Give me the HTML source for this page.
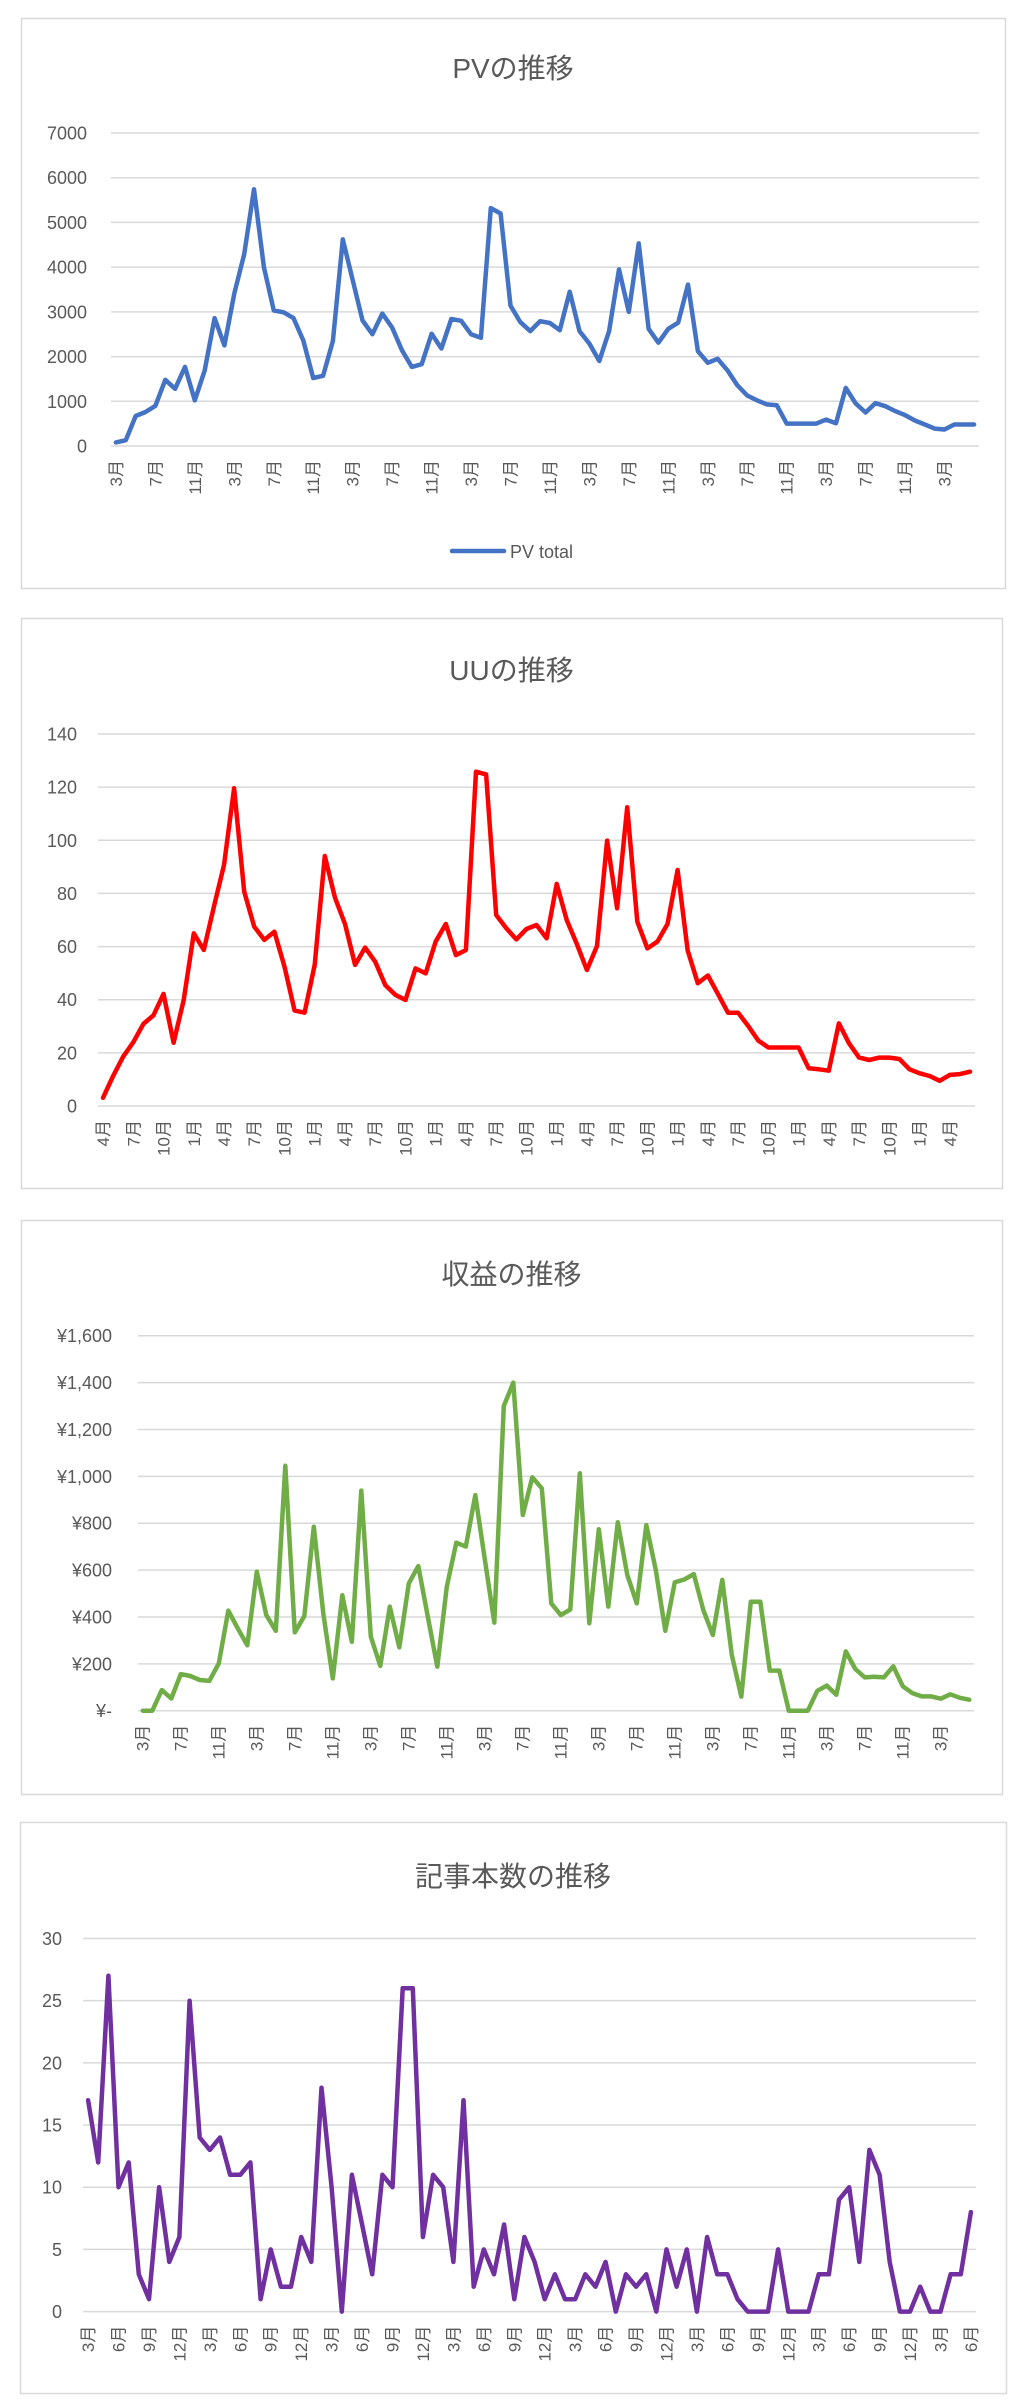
<!DOCTYPE html>
<html><head><meta charset="utf-8">
<style>
html,body{margin:0;padding:0;background:#fff;}
svg{display:block;font-family:"Liberation Sans","Noto Sans CJK JP",sans-serif;}
</style></head>
<body>
<svg id="root" width="1022" height="2403" viewBox="0 0 1022 2403" xmlns="http://www.w3.org/2000/svg"></svg>
<script>
// ---- data ----
const pvTicks = [0,1000,2000,3000,4000,5000,6000,7000];
const pvTickLabels = ["0","1000","2000","3000","4000","5000","6000","7000"];
const pvValues = [80,130,670,760,900,1480,1280,1770,1020,1690,2860,2250,3410,4290,5740,4000,3030,2990,2860,2360,1520,1570,2350,4620,3710,2810,2500,2960,2650,2140,1770,1830,2510,2180,2840,2800,2500,2420,5320,5200,3140,2770,2570,2790,2750,2590,3450,2570,2290,1900,2570,3950,3000,4530,2620,2310,2620,2760,3610,2120,1860,1950,1690,1360,1130,1020,930,910,500,500,500,500,590,510,1300,950,750,960,890,780,690,570,480,390,370,480,480,480];
const uuTicks = [0,20,40,60,80,100,120,140];
const uuTickLabels = ["0","20","40","60","80","100","120","140"];
const uuValues = [3.1,11.3,18.6,24,30.9,34.1,42.2,23.8,39.9,65,58.7,75,90.7,119.6,80.7,67.5,62.5,65.6,52.4,35.9,35.1,53.1,94.1,78.5,68.5,53.1,59.6,54.3,45.5,41.8,39.9,51.8,49.9,61.9,68.5,56.8,58.7,125.8,124.8,71.9,66.9,62.7,66.6,68.1,63.1,83.6,70,61,51.2,60.2,99.9,74.4,112.4,69.4,59.3,61.9,68.5,88.8,58.5,46.2,49.1,42.2,35.1,35.1,30.1,24.6,22,22,22,22,14.2,13.8,13.3,31.1,23.6,18.2,17.3,18.2,18.2,17.7,13.8,12.3,11.3,9.5,11.7,12,12.9];
const revTicks = [0,200,400,600,800,1000,1200,1400,1600];
const revTickLabels = ["¥-","¥200","¥400","¥600","¥800","¥1,000","¥1,200","¥1,400","¥1,600"];
const revValues = [0,0,88,52,156,148,131,127,202,427,351,279,593,408,341,1045,334,403,785,415,138,493,294,939,316,191,444,270,543,617,401,188,529,717,700,920,646,376,1300,1400,835,996,949,458,408,432,1013,373,774,444,804,579,458,792,600,341,548,560,583,430,323,558,238,60,465,465,171,171,0,0,0,85,107,68,253,178,142,145,142,189,104,75,61,61,51,70,55,47];
const artTicks = [0,5,10,15,20,25,30];
const artTickLabels = ["0","5","10","15","20","25","30"];
const artValues = [17,12,27,10,12,3,1,10,4,6,25,14,13,14,11,11,12,1,5,2,2,6,4,18,10,0,11,7,3,11,10,26,26,6,11,10,4,17,2,5,3,7,1,6,4,1,3,1,1,3,2,4,0,3,2,3,0,5,2,5,0,6,3,3,1,0,0,0,5,0,0,0,3,3,9,10,4,13,11,4,0,0,2,0,0,3,3,8];
const pvStartMonth = 3;
const uuStartMonth = 4;
const revStartMonth = 3;
const artStartMonth = 3;

function monthLabels(start, n){
  const out=[];
  for(let i=0;i<n;i++){ out.push(((start-1+i)%12+1)+"月"); }
  return out;
}
const pvCategories = monthLabels(pvStartMonth, pvValues.length);
const uuCategories = monthLabels(uuStartMonth, uuValues.length);
const revCategories = monthLabels(revStartMonth, revValues.length);
const artCategories = monthLabels(artStartMonth, artValues.length);

// ---- drawing ----
const NS="http://www.w3.org/2000/svg";
const root=document.getElementById('root');
function mk(tag, attrs, parent){
  const e=document.createElementNS(NS,tag);
  for(const k in attrs) e.setAttribute(k,attrs[k]);
  (parent||root).appendChild(e);
  return e;
}

function drawChart(c){
  const g=mk('g',{});
  
  
  const box=mk('rect',{x:c.box[0]+0.5,y:c.box[1]+0.5,width:c.box[2],height:c.box[3],fill:'#fff',stroke:'#d9d9d9','stroke-width':1.5},g);
  
  
  const t=mk('text',{x:(c.box[0]+c.box[0]+c.box[2])/2+ (c.titleDx||0),y:c.titleY,'text-anchor':'middle','font-size':28,fill:'#595959'},g);
  t.textContent=c.title;
  
  
  const p=c.plot;
  const yS=v=>p.y1-(v/c.yMax)*(p.y1-p.y0);
  const n=c.values.length;
  const bw=(p.x1-p.x0)/n;
  const xS=i=>p.x0+(i+0.5)*bw;
  c.ticks.forEach((v,k)=>{
    const gl=mk('line',{x1:p.x0,x2:p.x1,y1:yS(v),y2:yS(v),stroke:'#d9d9d9','stroke-width':1.5},g);
    
    
    const tl=mk('text',{x:c.labelRight,y:yS(v)+6.5,'text-anchor':'end','font-size':18,fill:'#595959'},g);
    tl.textContent=c.tickLabels[k];
    
    
  });
  c.cats.forEach((lab,i)=>{
    if(i%c.labelEvery!==0) return;
    const x=xS(i)+6, y=p.y1+14;
    const xl=mk('text',{x:x,y:y,'text-anchor':'end','font-size':17,fill:'#595959',transform:`rotate(-90 ${x} ${y})`},g);
    xl.textContent=lab;
    
    
  });
  const pts=c.values.map((v,i)=>xS(i).toFixed(1)+','+yS(v).toFixed(1)).join(' ');
  const line=mk('polyline',{points:pts,fill:'none',stroke:c.color,'stroke-width':4.5,'stroke-linejoin':'round','stroke-linecap':'round'},g);
  
  
  return g;
}

drawChart({name:'pv-chart',title:'PVの推移',box:[21,18,984,570],titleY:78,
  plot:{x0:111,x1:979,y0:133,y1:446},yMax:7000,ticks:pvTicks,tickLabels:pvTickLabels,labelRight:87,
  values:pvValues,cats:pvCategories,labelEvery:4,color:'#4472c4'});
drawChart({name:'uu-chart',title:'UUの推移',box:[21,618,981,570],titleY:680,
  plot:{x0:98,x1:975,y0:734,y1:1106},yMax:140,ticks:uuTicks,tickLabels:uuTickLabels,labelRight:77,
  values:uuValues,cats:uuCategories,labelEvery:3,color:'#ff0000'});
drawChart({name:'revenue-chart',title:'収益の推移',box:[21,1220,981,574],titleY:1284,
  plot:{x0:138,x1:974,y0:1335.7,y1:1710.7},yMax:1600,ticks:revTicks,tickLabels:revTickLabels,labelRight:112,
  values:revValues,cats:revCategories,labelEvery:4,color:'#70ad47'});
drawChart({name:'articles-chart',title:'記事本数の推移',box:[20,1822,986,571],titleY:1886,
  plot:{x0:83,x1:976,y0:1938.5,y1:2311.6},yMax:30,ticks:artTicks,tickLabels:artTickLabels,labelRight:62,
  values:artValues,cats:artCategories,labelEvery:3,color:'#7030a0'});

// legend for PV chart
const lg=mk('g',{});


mk('line',{x1:452,x2:504,y1:551,y2:551,stroke:'#4472c4','stroke-width':4.5,'stroke-linecap':'round'},lg);
const lt=mk('text',{x:510,y:558,'font-size':18,fill:'#595959'},lg);
lt.textContent='PV total';
</script>
</body></html>
